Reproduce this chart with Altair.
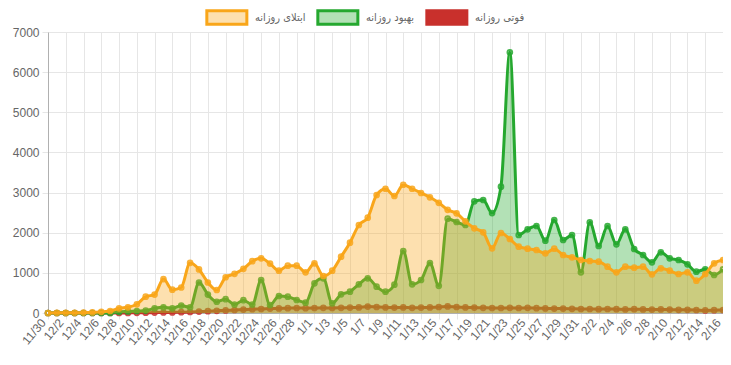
import altair as alt
import pandas as pd

dates = ["11/30",
         "12/1", "12/2", "12/3", "12/4", "12/5", "12/6", "12/7", "12/8", "12/9", "12/10",
         "12/11", "12/12", "12/13", "12/14", "12/15", "12/16", "12/17", "12/18", "12/19", "12/20",
         "12/21", "12/22", "12/23", "12/24", "12/25", "12/26", "12/27", "12/28", "12/30",
         "1/1", "1/2", "1/3", "1/4", "1/5", "1/6", "1/7", "1/8", "1/9", "1/10",
         "1/11", "1/12", "1/13", "1/14", "1/15", "1/16", "1/17", "1/18", "1/19", "1/20",
         "1/21", "1/22", "1/23", "1/24", "1/25", "1/26", "1/27", "1/28", "1/29", "1/30", "1/31",
         "2/1", "2/2", "2/3", "2/4", "2/5", "2/6", "2/7", "2/8", "2/9", "2/10",
         "2/11", "2/12", "2/13", "2/14", "2/15", "2/16"]

infected = [0, 5, 5, 5, 10, 15, 30, 50, 117, 142, 216,
            406, 460, 845, 580, 635, 1250, 1085, 760, 573, 890,
            975, 1100, 1290, 1362, 1230, 1054, 1179, 1179, 1013,
            1238, 921, 1054, 1403, 1751, 2192, 2375, 2940, 3095, 2915,
            3195, 3095, 2990, 2882, 2745, 2570, 2484, 2283, 2110, 2010,
            1611, 1993, 1843, 1652, 1603, 1569, 1486, 1603, 1445, 1386, 1320,
            1295, 1279, 1154, 1014, 1154, 1129, 1154, 964, 1113, 1054,
            972, 1014, 805, 972, 1238, 1320]

recovered = [0, 0, 0, 0, 0, 0, 0, 0, 30, 40, 50,
             60, 117, 142, 117, 185, 142, 760, 460, 280, 345,
             210, 320, 210, 822, 200, 423, 407, 324, 257,
             740, 864, 241, 465, 531, 714, 864, 656, 531, 705,
             1545, 714, 822, 1246, 676, 2350, 2267, 2192, 2782, 2815,
             2490, 3147, 6495, 1943, 2085, 2167, 1801, 2317, 1819, 1943, 1014,
             2259, 1669, 2167, 1711, 2085, 1594, 1445, 1263, 1512, 1363,
             1320, 1213, 1029, 1089, 947, 1089]

deaths = [0, 0, 0, 0, 0, 0, 0, 1, 2, 3, 5,
          7, 10, 12, 15, 20, 25, 35, 45, 55, 65,
          75, 85, 95, 100, 110, 115, 120, 125, 120,
          125, 130, 125, 130, 135, 140, 160, 150, 140, 135,
          140, 130, 135, 140, 150, 165, 150, 140, 135, 130,
          125, 125, 130, 125, 130, 120, 115, 110, 110, 105, 100,
          100, 95, 100, 95, 90, 95, 90, 85, 90, 85,
          80, 80, 75, 65, 70, 75]

series_names = ["ابتلای روزانه", "بهبود روزانه", "فوتی روزانه"]
line_colors = ["#F9A61A", "#25A82F", "#C8302C"]
fill_colors = ["rgba(249,166,26,0.35)", "rgba(37,168,47,0.35)", "rgba(201,48,44,1)"]
death_fill = "rgba(200,48,44,0.3)"
y_ticks = [0, 1000, 2000, 3000, 4000, 5000, 6000, 7000]

rows = []
for name, vals in zip(series_names, [infected, recovered, deaths]):
    for d, v in zip(dates, vals):
        rows.append({"date": d, "series": name, "value": v})
df = pd.DataFrame(rows)

x_enc = alt.X("date:O", sort=dates,
              scale=alt.Scale(type="point", padding=0),
              axis=alt.Axis(values=dates[::2], labelAngle=-50, labelAlign="right",
                            labelBaseline="middle", labelFontSize=12, labelOffset=-5,
                            labelColor="#666", grid=True, gridColor="#e6e6e6",
                            tickColor="#e6e6e6", tickSize=6, domainColor="#b0b0b0",
                            title=None, labelPadding=1, labelFont="Liberation Sans"))
y_enc = alt.Y("value:Q", scale=alt.Scale(domain=[0, 7000], nice=False),
              axis=alt.Axis(values=y_ticks, labelFontSize=12, labelColor="#666",
                            grid=True, gridColor="#e6e6e6", tickColor="#e6e6e6",
                            tickSize=6, domainColor="#b0b0b0", title=None,
                            labelPadding=3, labelFont="Liberation Sans", format="d"))


def make_legend():
    return alt.Legend(orient="none", legendX=157, legendY=-23, direction="horizontal",
                      gridAlign="none", symbolOpacity=1,
                      title=None, symbolType="M-1,-1L5,-1L5,1L-1,1Z", symbolSize=178,
                      symbolStrokeWidth=3, labelOffset=33, columnPadding=5,
                      labelFontSize=11, labelColor="#666", labelFont="DejaVu Sans Condensed")


fill_enc = alt.Fill("series:N", scale=alt.Scale(domain=series_names, range=fill_colors),
                    legend=make_legend())
stroke_enc = alt.Stroke("series:N", scale=alt.Scale(domain=series_names, range=line_colors),
                        legend=make_legend())

layers = []
for name in [series_names[2], series_names[1], series_names[0]]:
    base = alt.Chart().transform_filter(alt.datum.series == name).encode(x=x_enc, y=y_enc)
    if name == series_names[2]:
        layers.append(base.mark_area(interpolate="monotone", fill=death_fill))
    else:
        layers.append(base.mark_area(interpolate="monotone").encode(fill=fill_enc))
    layers.append(base.mark_line(interpolate="monotone", strokeWidth=3).encode(stroke=stroke_enc))
    layers.append(base.mark_point(filled=False, size=22, strokeWidth=2, opacity=0.85)
                  .encode(stroke=stroke_enc))

chart = alt.layer(*layers, data=df).properties(
    width=675, height=281,
    autosize=alt.AutoSizeParams(type="none"),
    padding={"left": 40, "top": 24, "right": 0, "bottom": 50},
).configure_view(stroke=None)

chart.save("out.html", embed_options={"renderer": "svg", "actions": False})
